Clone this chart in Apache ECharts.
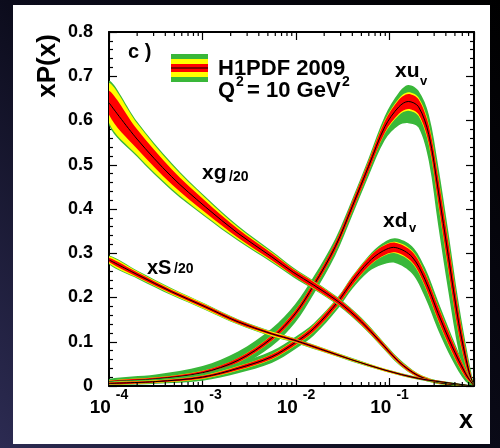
<!DOCTYPE html>
<html><head><meta charset="utf-8">
<script src="https://cdn.jsdelivr.net/npm/echarts@6/dist/echarts.min.js"></script>
<style>html,body{margin:0;padding:0;background:#000}#c{width:500px;height:448px}</style>
</head><body><div id="c"></div>
<script>
// ---- axes (x is plotted as log10(x)) ----
const xMinLog = -4;
const xMaxLog = Math.log10(0.8);
const xMajorExps = [-4, -3, -2, -1];
const yMin = 0, yMax = 0.8, yStep = 0.1;

// ---- xu_v ----
const xuLogX = [-4, -3.5, -3.0, -2.62, -2.26, -2.01, -1.81, -1.58, -1.40, -1.225, -1.05, -0.90, -0.80, -0.69, -0.58, -0.48, -0.37, -0.26, -0.155, -0.097];
const xuMid  = [0.010, 0.016, 0.030, 0.058, 0.108, 0.163, 0.228, 0.315, 0.405, 0.496, 0.586, 0.631, 0.643, 0.631, 0.568, 0.443, 0.292, 0.142, 0.036, 0.0];
const xuRed  = [0.002, 0.003, 0.004, 0.005, 0.006, 0.007, 0.008, 0.009, 0.010, 0.011, 0.013, 0.016, 0.017, 0.017, 0.020, 0.028, 0.030, 0.025, 0.012, 0];
const xuYel  = [0.0025, 0.0035, 0.0045, 0.0055, 0.0065, 0.0075, 0.0085, 0.0095, 0.011, 0.012, 0.015, 0.019, 0.021, 0.021, 0.024, 0.032, 0.034, 0.028, 0.014, 0];
const xuGrnDn = [0.004, 0.006, 0.010, 0.014, 0.018, 0.020, 0.020, 0.020, 0.020, 0.022, 0.030, 0.042, 0.049, 0.047, 0.060, 0.080, 0.080, 0.065, 0.035, 0];
const xuGrnUp = [0.006, 0.010, 0.015, 0.020, 0.022, 0.022, 0.020, 0.018, 0.017, 0.018, 0.024, 0.032, 0.037, 0.036, 0.045, 0.055, 0.055, 0.045, 0.025, 0];

// ---- xd_v ----
const xdLogX = [-4, -3.5, -3.0, -2.62, -2.26, -2.01, -1.81, -1.55, -1.40, -1.225, -1.08, -0.94, -0.76, -0.62, -0.48, -0.33, -0.19, -0.097];
const xdMid  = [0.006, 0.010, 0.020, 0.040, 0.066, 0.098, 0.130, 0.191, 0.236, 0.280, 0.304, 0.313, 0.292, 0.240, 0.164, 0.089, 0.029, 0.0];
const xdRed  = [0.002, 0.002, 0.003, 0.004, 0.005, 0.006, 0.007, 0.008, 0.009, 0.010, 0.011, 0.011, 0.012, 0.014, 0.015, 0.013, 0.008, 0];
const xdYel  = [0.0025, 0.003, 0.004, 0.005, 0.006, 0.007, 0.008, 0.009, 0.010, 0.011, 0.012, 0.013, 0.014, 0.016, 0.017, 0.015, 0.009, 0];
const xdGrnDn = [0.003, 0.005, 0.008, 0.011, 0.014, 0.015, 0.016, 0.016, 0.017, 0.022, 0.030, 0.035, 0.038, 0.040, 0.038, 0.030, 0.018, 0];
const xdGrnUp = [0.004, 0.006, 0.009, 0.012, 0.013, 0.013, 0.012, 0.011, 0.012, 0.014, 0.018, 0.021, 0.024, 0.027, 0.027, 0.022, 0.012, 0];

// ---- xg / 20 ----
const xgLogX = [-4, -3.7, -3.33, -2.97, -2.62, -2.26, -2.03, -1.81, -1.55, -1.3, -1.1, -0.9, -0.7, -0.5, -0.3, -0.097];
const xgMid  = [0.640, 0.558, 0.473, 0.405, 0.345, 0.292, 0.257, 0.228, 0.191, 0.145, 0.100, 0.055, 0.024, 0.009, 0.003, 0.0];
const xgRed  = [0.027, 0.022, 0.017, 0.013, 0.010, 0.008, 0.007, 0.007, 0.006, 0.006, 0.005, 0.004, 0.003, 0.002, 0.001, 0];
const xgYel  = [0.045, 0.036, 0.027, 0.020, 0.014, 0.010, 0.008, 0.008, 0.007, 0.007, 0.006, 0.005, 0.004, 0.003, 0.002, 0];
const xgGrn  = [0.050, 0.040, 0.031, 0.023, 0.017, 0.013, 0.011, 0.010, 0.009, 0.009, 0.008, 0.007, 0.005, 0.004, 0.002, 0];

// ---- xS / 20 ----
const xsLogX = [-4, -3.69, -3.33, -2.97, -2.62, -2.26, -2.01, -1.76, -1.40, -1.05, -0.69, -0.33, -0.097];
const xsMid  = [0.285, 0.251, 0.213, 0.179, 0.145, 0.118, 0.103, 0.085, 0.059, 0.036, 0.017, 0.006, 0.0];
const xsRed  = [0.005, 0.005, 0.004, 0.004, 0.004, 0.003, 0.003, 0.003, 0.002, 0.002, 0.002, 0.001, 0];
const xsYel  = [0.008, 0.007, 0.006, 0.006, 0.005, 0.005, 0.004, 0.004, 0.003, 0.003, 0.002, 0.001, 0];
const xsGrn  = [0.010, 0.009, 0.008, 0.007, 0.006, 0.006, 0.005, 0.005, 0.004, 0.003, 0.003, 0.002, 0];

// ---- styles ----
const GREEN = '#39b739', YELLOW = '#ffff00', RED = '#ff0000';
const FONT = '"Liberation Sans", Arial, Helvetica, sans-serif';
const SMOOTH = 0.33;

const curves = [
  {n: 'xu', x: xuLogX, m: xuMid, r: xuRed, yl: xuYel, gd: xuGrnDn, gu: xuGrnUp},
  {n: 'xd', x: xdLogX, m: xdMid, r: xdRed, yl: xdYel, gd: xdGrnDn, gu: xdGrnUp},
  {n: 'xg', x: xgLogX, m: xgMid, r: xgRed, yl: xgYel, gd: xgGrn, gu: xgGrn},
  {n: 'xS', x: xsLogX, m: xsMid, r: xsRed, yl: xsYel, gd: xsGrn, gu: xsGrn}
];

// each data row: [logx, mid, redLo, redHi, yelLo, yelHi, grnLo, grnHi]
function rows(c) {
  return c.x.map((x, i) => {
    const m = c.m[i];
    return [x, m, Math.max(0, m - c.r[i]), m + c.r[i], Math.max(0, m - c.yl[i]), m + c.yl[i],
            Math.max(0, m - c.gd[i]), m + c.gu[i]];
  });
}

function renderCurve(params, api) {
  if (params.dataIndexInside !== 0) return null;
  const n = params.dataInsideLength;
  const pts = dim => { const a = []; for (let i = 0; i < n; i++) a.push(api.coord([api.value(0, i), api.value(dim, i)])); return a; };
  const band = (dLo, dHi, color) => ({
    type: 'polygon', shape: {points: pts(dHi).concat(pts(dLo).reverse()), smooth: SMOOTH},
    style: {fill: color, stroke: null}
  });
  return {type: 'group', children: [
    band(6, 7, GREEN), band(4, 5, YELLOW), band(2, 3, RED),
    {type: 'polyline', shape: {points: pts(1), smooth: SMOOTH}, style: {stroke: '#000', lineWidth: 1, fill: null}}
  ]};
}

const series = curves.map(c => ({
  type: 'custom', name: c.n, data: rows(c), encode: {x: 0, y: 1}, clip: true, silent: true,
  animation: false, renderItem: renderCurve
}));

// minor log ticks on the x axis (2..9 of each decade)
const minorTicks = [];
for (let e = -4; e < 0; e++) for (let k = 2; k <= 9; k++) {
  const v = e + Math.log10(k);
  if (v < xMaxLog - 1e-6) minorTicks.push([v, 0]);
}
series.push({
  type: 'custom', data: minorTicks, clip: false, silent: true, z: 10, animation: false,
  encode: {x: 0, y: 1},
  renderItem: (params, api) => {
    const v = api.value(0);
    const b = api.coord([v, yMin]);
    const t = api.coord([v, yMax]);
    const st = {stroke: '#000', lineWidth: 1.2};
    return {type: 'group', children: [
      {type: 'line', shape: {x1: b[0], y1: b[1], x2: b[0], y2: b[1] - 4}, style: st},
      {type: 'line', shape: {x1: t[0], y1: t[1], x2: t[0], y2: t[1] + 4}, style: st}
    ]};
  }
});

const axisLine = {show: true, onZero: false, lineStyle: {color: '#000', width: 2}};
const majTick = {show: true, inside: true, length: 8, lineStyle: {color: '#000', width: 1.2}};
const minTick = {show: true, splitNumber: 5, length: 4, lineStyle: {color: '#000', width: 1.2}};

const txt = (text, x, y, size, extra) => Object.assign({type: 'text', x: x, y: y, z: 20,
  style: Object.assign({text: text, fill: '#000', font: 'bold ' + size + 'px ' + FONT, verticalAlign: 'middle', align: 'left'}, extra || {})});

const option = {
  animation: false,
  grid: {left: 109, top: 32, right: 26, bottom: 62, outerBoundsMode: 'none'},
  xAxis: [
    {type: 'value', position: 'bottom', min: xMinLog, max: xMaxLog, interval: 1,
     axisLine, axisTick: majTick, splitLine: {show: false},
     axisLabel: {
       margin: 2, color: '#000',
       formatter: v => { const e = Math.round(v); if (Math.abs(v - e) > 1e-6 || xMajorExps.indexOf(e) < 0) return ''; return '{b|10}{s|' + e + '}'; },
       rich: {
         b: {fontSize: 19, fontWeight: 'bold', fontFamily: FONT, color: '#000', lineHeight: 40},
         s: {fontSize: 14, fontWeight: 'bold', fontFamily: FONT, color: '#000', verticalAlign: 'top', padding: [0, 0, 0, 5]}
       }
     }},
    {type: 'value', position: 'top', min: xMinLog, max: xMaxLog, interval: 1,
     axisLine, axisTick: majTick, axisLabel: {show: false}, splitLine: {show: false}}
  ],
  yAxis: [
    {type: 'value', position: 'left', min: yMin, max: yMax, interval: yStep,
     axisLine, axisTick: majTick, minorTick: minTick, splitLine: {show: false}, minorSplitLine: {show: false},
     axisLabel: {margin: 16, color: '#000', fontSize: 18, fontWeight: 'bold', fontFamily: FONT,
       formatter: v => v === 0 ? '0' : v.toFixed(1)}},
    {type: 'value', position: 'right', min: yMin, max: yMax, interval: yStep,
     axisLine, axisTick: majTick, minorTick: minTick, splitLine: {show: false}, minorSplitLine: {show: false},
     axisLabel: {show: false}}
  ],
  series: series,
  graphic: [
    {type: 'rect', z: -10, silent: true, shape: {x: 0, y: 0, width: 500, height: 448},
     style: {fill: new echarts.graphic.LinearGradient(1, 0, 0, 1, [
       {offset: 0, color: '#000000'}, {offset: 0.55, color: '#0c0c1c'}, {offset: 1, color: '#2c2b52'}])}},
    {type: 'rect', z: -9, silent: true, shape: {x: 13, y: 5, width: 477, height: 439}, style: {fill: '#ffffff'}},
    // legend patch
    {type: 'rect', z: 20, shape: {x: 171, y: 54, width: 37, height: 28}, style: {fill: GREEN}},
    {type: 'rect', z: 20, shape: {x: 171, y: 59, width: 37, height: 18}, style: {fill: YELLOW}},
    {type: 'rect', z: 20, shape: {x: 171, y: 64, width: 37, height: 8}, style: {fill: RED}},
    {type: 'rect', z: 20, shape: {x: 171, y: 67.5, width: 37, height: 1}, style: {fill: '#000'}},
    txt('c )', 128, 52.5, 20),
    txt('H1PDF 2009', 218, 69.3, 22),
    txt('Q', 218, 91.3, 22),
    txt('2', 236, 82, 14),
    txt('= 10 GeV', 247, 91.3, 22),
    txt('2', 342, 82, 14),
    txt('xu', 395, 71.7, 21),
    txt('v', 420, 81.5, 13),
    txt('xd', 383, 221, 21),
    txt('v', 409, 228.5, 13),
    txt('xg', 202, 173, 21),
    txt('/20', 229, 177, 14),
    txt('xS', 147, 268, 20),
    txt('/20', 174, 269.5, 14),
    Object.assign(txt('xP(x)', 48, 66, 26, {align: 'center'}), {rotation: Math.PI / 2}),
    txt('x', 473, 421.3, 25, {align: 'right'})
  ]
};

const chart = echarts.init(document.getElementById('c'), null, {renderer: 'canvas'});
chart.setOption(option);
</script>
</body></html>
